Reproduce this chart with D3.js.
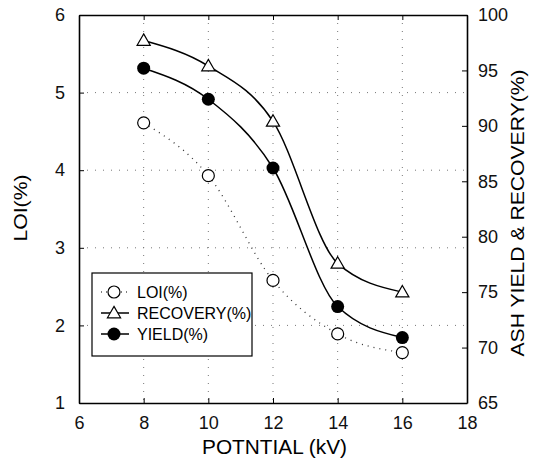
<!DOCTYPE html>
<html>
<head>
<meta charset="UTF-8">
<script src="https://cdn.jsdelivr.net/npm/d3@7"></script>
<style>
  body { margin: 0; background: #fff; }
  svg { font-family: "Liberation Sans", Arial, sans-serif; }
  .tick text { font-size: 18px; fill: #111; }
  .grid line { stroke: #777; stroke-dasharray: 1,7; }
</style>
</head>
<body>
<svg id="chart" width="537" height="468"></svg>
<script>
// data
const potential = [8, 10, 12, 14, 16];
const loi = [4.61, 3.93, 2.58, 1.89, 1.65];
const recovery = [97.7, 95.4, 90.4, 77.6, 75.0];
const yieldPct = [95.2, 92.4, 86.2, 73.7, 70.9];
const xTicks = [6, 8, 10, 12, 14, 16, 18];
const yLeftTicks = [1, 2, 3, 4, 5, 6];
const yRightTicks = [65, 70, 75, 80, 85, 90, 95, 100];

const margin = { top: 15, right: 70, bottom: 65, left: 79 },
      width = 537 - margin.left - margin.right,
      height = 468 - margin.top - margin.bottom;

const svg = d3.select("#chart");
const g = svg.append("g").attr("transform", `translate(${margin.left},${margin.top})`);

const x = d3.scaleLinear().domain([6, 18]).range([0, width]);
const yL = d3.scaleLinear().domain([1, 6]).range([height, 0]);
const yR = d3.scaleLinear().domain([65, 100]).range([height, 0]);

// dotted grid
g.append("g").attr("class", "grid")
  .selectAll("line").data(xTicks.slice(1, -1)).join("line")
  .attr("x1", d => x(d)).attr("x2", d => x(d)).attr("y1", 0).attr("y2", height);
g.append("g").attr("class", "grid")
  .selectAll("line").data(yLeftTicks.slice(1, -1)).join("line")
  .attr("x1", 0).attr("x2", width).attr("y1", d => yL(d)).attr("y2", d => yL(d));

// axes (ticks inward)
g.append("g").attr("transform", `translate(0,${height})`)
  .call(d3.axisBottom(x).tickValues(xTicks).tickSizeInner(-5).tickSizeOuter(0).tickPadding(13));
g.append("g")
  .call(d3.axisTop(x).tickValues(xTicks).tickSizeInner(-5).tickSizeOuter(0).tickFormat(""));
g.append("g")
  .call(d3.axisLeft(yL).tickValues(yLeftTicks).tickFormat(d3.format("d"))
    .tickSizeInner(-5).tickSizeOuter(0).tickPadding(14));
g.append("g").attr("transform", `translate(${width},0)`)
  .call(d3.axisRight(yR).tickValues(yRightTicks).tickSizeInner(-5).tickSizeOuter(0).tickPadding(11));
g.selectAll(".domain").attr("stroke", "#000").attr("stroke-width", 1.6);
g.selectAll(".tick line").attr("stroke", "#000");

// lines
const lineL = d3.line().x((d, i) => x(potential[i])).y(d => yL(d)).curve(d3.curveMonotoneX);
const lineR = d3.line().x((d, i) => x(potential[i])).y(d => yR(d)).curve(d3.curveMonotoneX);

g.append("path").attr("d", lineL(loi)).attr("fill", "none")
  .attr("stroke", "#333").attr("stroke-width", 1.3).attr("stroke-dasharray", "1,5");
g.append("path").attr("d", lineR(recovery)).attr("fill", "none")
  .attr("stroke", "#000").attr("stroke-width", 1.5);
g.append("path").attr("d", lineR(yieldPct)).attr("fill", "none")
  .attr("stroke", "#000").attr("stroke-width", 1.5);

const tri = d3.symbol().type(d3.symbolTriangle).size(75);

g.selectAll(".loi").data(loi).join("circle")
  .attr("cx", (d, i) => x(potential[i])).attr("cy", d => yL(d)).attr("r", 6)
  .attr("fill", "#fff").attr("stroke", "#000").attr("stroke-width", 1.2);
g.selectAll(".rec").data(recovery).join("path")
  .attr("d", tri).attr("transform", (d, i) => `translate(${x(potential[i])},${yR(d) + 1})`)
  .attr("fill", "#fff").attr("stroke", "#000").attr("stroke-width", 1.2);
g.selectAll(".yld").data(yieldPct).join("circle")
  .attr("cx", (d, i) => x(potential[i])).attr("cy", d => yR(d)).attr("r", 6.5)
  .attr("fill", "#000");

// legend
const lg = svg.append("g").attr("transform", "translate(92,273)");
lg.append("rect").attr("width", 160).attr("height", 83)
  .attr("fill", "#fff").attr("stroke", "#000").attr("stroke-width", 1.2);
const items = ["LOI(%)", "RECOVERY(%)", "YIELD(%)"];
items.forEach((name, i) => {
  const yy = 19 + i * 21;
  const row = lg.append("g").attr("transform", `translate(0,${yy})`);
  row.append("line").attr("x1", 9).attr("x2", 37).attr("y1", 0).attr("y2", 0)
    .attr("stroke", "#000").attr("stroke-width", i === 0 ? 1.2 : 1.5)
    .attr("stroke-dasharray", i === 0 ? "1,4" : null);
  if (i === 0) row.append("circle").attr("cx", 22).attr("cy", 0).attr("r", 6)
    .attr("fill", "#fff").attr("stroke", "#000").attr("stroke-width", 1.2);
  if (i === 1) row.append("path").attr("d", tri).attr("transform", "translate(22,1)")
    .attr("fill", "#fff").attr("stroke", "#000").attr("stroke-width", 1.2);
  if (i === 2) row.append("circle").attr("cx", 22).attr("cy", 0).attr("r", 6.5).attr("fill", "#000");
  row.append("text").attr("x", 45).attr("y", 6).attr("font-size", 16).text(name);
});

// axis titles
svg.append("text").attr("x", 202).attr("y", 454)
  .attr("font-size", 20).attr("textLength", 145).attr("lengthAdjust", "spacingAndGlyphs")
  .text("POTNTIAL (kV)");
svg.append("text").attr("transform", "translate(27,208) rotate(-90)")
  .attr("text-anchor", "middle").attr("font-size", 19)
  .attr("textLength", 67).attr("lengthAdjust", "spacingAndGlyphs").text("LOI(%)");
svg.append("text").attr("transform", "translate(524,213) rotate(-90)")
  .attr("text-anchor", "middle").attr("font-size", 19)
  .attr("textLength", 287).attr("lengthAdjust", "spacingAndGlyphs").text("ASH YIELD & RECOVERY(%)");
</script>
</body>
</html>
